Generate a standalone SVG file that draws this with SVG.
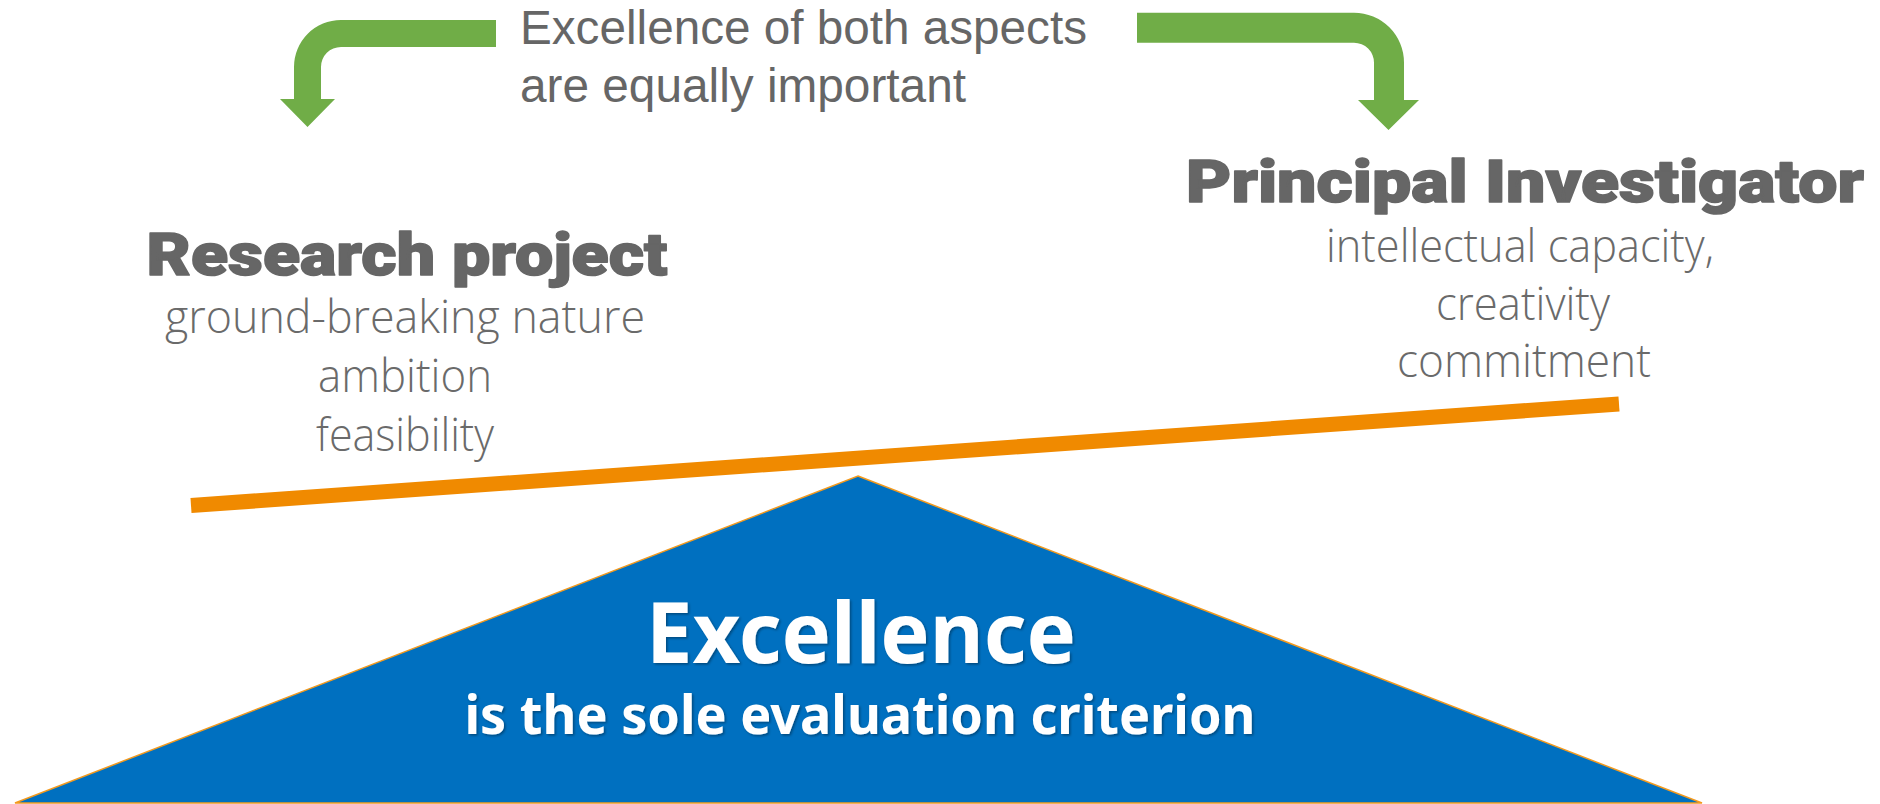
<svg xmlns="http://www.w3.org/2000/svg" width="1880" height="804" viewBox="0 0 1880 804">
  <defs>
    <style>
      .note { font-family: "Liberation Sans", Arial, sans-serif; font-size: 48px; fill: #666666; }
      .head { font-family: "Roboto", "Inter", "Lato", sans-serif; font-weight: 900; font-size: 60px; fill: #666666; stroke: #666666; stroke-width: 1.5; stroke-linejoin: round; text-anchor: middle; }
      .body { font-family: "Open Sans", "Noto Sans", sans-serif; font-weight: 300; font-size: 46px; fill: #6a6a6a; text-anchor: middle; }
      .big { font-family: "Noto Sans", "Open Sans", sans-serif; font-weight: 700; fill: #ffffff; text-anchor: middle; }
      .arrow { fill: #70AD47; }
    </style>
    <filter id="shadow" x="-5%" y="-20%" width="110%" height="140%">
      <feDropShadow dx="1.5" dy="1.5" stdDeviation="1" flood-color="#000000" flood-opacity="0.35"/>
    </filter>
  </defs>
  <rect width="1880" height="804" fill="#ffffff"/>

  <g id="connectors">
    <path class="arrow" d="M496,20 L341,20 A47,47 0 0 0 294,67 L294,99 L280,99 L307.5,127 L335,99 L321,99 L321,67 A20,20 0 0 1 341,47 L496,47 Z"/>
    <path class="arrow" d="M1137,12.7 L1354,12.7 A50,50 0 0 1 1404,62.7 L1404,100 L1419,100 L1388.5,130 L1358,100 L1374,100 L1374,62.7 A20,20 0 0 0 1354,42.7 L1137,42.7 Z"/>
  </g>

  <g id="note">
    <text class="note" x="520" y="44" textLength="567" lengthAdjust="spacingAndGlyphs">Excellence of both aspects</text>
    <text class="note" x="520" y="102" textLength="446" lengthAdjust="spacingAndGlyphs">are equally important</text>
  </g>

  <g id="research-project">
    <text class="head" x="407" y="275" textLength="521" lengthAdjust="spacingAndGlyphs">Research project</text>
    <text class="body" x="405" y="333" textLength="480" lengthAdjust="spacingAndGlyphs">ground-breaking nature</text>
    <text class="body" x="405" y="392" textLength="174" lengthAdjust="spacingAndGlyphs">ambition</text>
    <text class="body" x="405" y="451" textLength="178" lengthAdjust="spacingAndGlyphs">feasibility</text>
  </g>

  <g id="principal-investigator">
    <text class="head" x="1525" y="202" textLength="678" lengthAdjust="spacingAndGlyphs">Principal Investigator</text>
    <text class="body" x="1520" y="262" textLength="388" lengthAdjust="spacingAndGlyphs">intellectual capacity,</text>
    <text class="body" x="1523" y="320" textLength="174" lengthAdjust="spacingAndGlyphs">creativity</text>
    <text class="body" x="1524" y="377" textLength="254" lengthAdjust="spacingAndGlyphs">commitment</text>
  </g>

  <g id="balance-beam">
    <line x1="191" y1="505.5" x2="1619" y2="404" stroke="#F08A00" stroke-width="15"/>
  </g>

  <g id="excellence">
    <polygon points="858,476 1702,803 15,803" fill="#0070C0" stroke="#F39A1E" stroke-width="1.5" stroke-linejoin="miter"/>
    <text class="big" x="861" y="663" font-size="85" textLength="430" lengthAdjust="spacingAndGlyphs" filter="url(#shadow)">Excellence</text>
    <text class="big" x="860" y="734" font-size="53" textLength="791" lengthAdjust="spacingAndGlyphs" filter="url(#shadow)">is the sole evaluation criterion</text>
  </g>
</svg>
